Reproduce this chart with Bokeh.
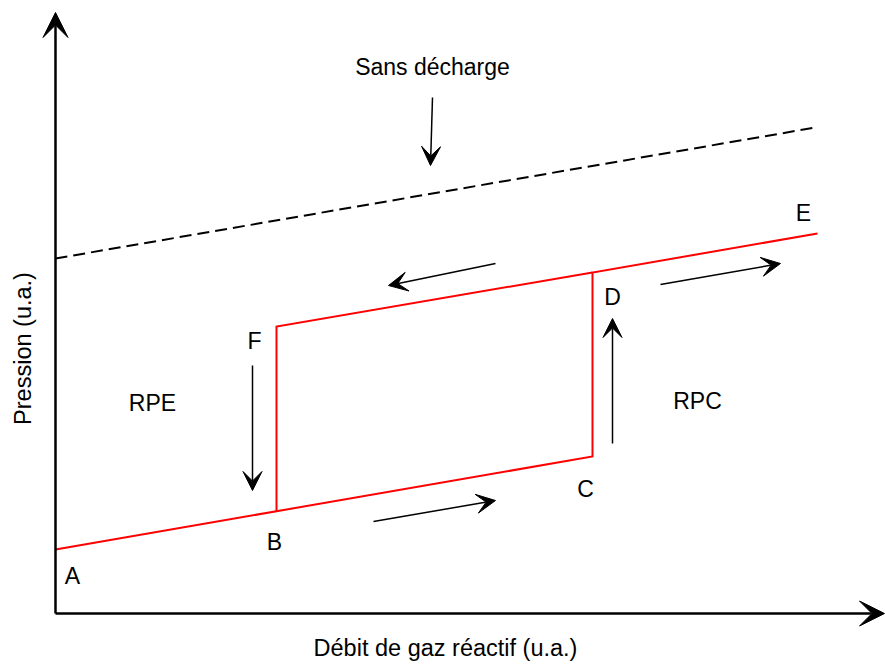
import numpy as np
from bokeh.plotting import figure
from bokeh.models import Range1d, Arrow, VeeHead, ColumnDataSource
from bokeh.embed import file_html
from bokeh.resources import INLINE
from bokeh.core.properties import value

# ---- data (arbitrary units, u.a.) ----
# axes
axis_x0 = [0, 0]
axis_y0 = [0, 0]
axis_x1 = [0, 829]
axis_y1 = [601, 0]

# "sans décharge" reference (dashed)
nodis_x = [0, 760]
nodis_y = [355, 486]

# hysteresis loop: A -> C -> D -> E  and  B -> F -> D
loop_main_x = [0, 537, 537, 762]
loop_main_y = [64, 157, 341, 380]
loop_back_x = [221, 221, 537]
loop_back_y = [102, 287, 341]

# direction arrows
arr_x0 = [377, 440, 605, 557, 197, 318]
arr_y0 = [516, 350, 329, 170, 248, 92]
arr_x1 = [375, 333, 725, 557, 197, 440]
arr_y1 = [448, 328, 350, 295, 123, 113]

# point / region labels
lab_text = ["A", "B", "C", "D", "E", "F", "RPE", "RPC", "Sans décharge"]
lab_x = [17, 219, 530, 557, 748, 199, 97, 642, 377]
lab_y = [38, 72, 125, 317, 401, 273, 211, 213, 547]

xlabel = "Débit de gaz réactif (u.a.)"
ylabel = "Pression (u.a.)"
xlabel_pos = (390, -34)
ylabel_pos = (-33, 265)

FONT = "Liberation Sans"

p = figure(width=885, height=664, x_range=Range1d(-55, 830), y_range=Range1d(-51, 613),
           output_backend="svg", toolbar_location=None, min_border=0)
p.axis.visible = False
p.grid.visible = False
p.outline_line_color = None
p.background_fill_color = "white"
p.border_fill_color = "white"

# dashed line
p.line(nodis_x, nodis_y, line_color="black", line_width=2, line_dash="12 6")

# red loop
p.multi_line([loop_main_x, loop_back_x], [loop_main_y, loop_back_y],
             line_color="#ff0000", line_width=2, line_join="miter")

# axes with arrows
axis_src = ColumnDataSource(dict(x0=axis_x0, y0=axis_y0, x1=axis_x1, y1=axis_y1))
p.add_layout(Arrow(end=VeeHead(size=25, fill_color="black", line_color="black", line_width=1),
                   x_start="x0", y_start="y0", x_end="x1", y_end="y1",
                   source=axis_src, line_width=2.5, line_color="black"))

arr_src = ColumnDataSource(dict(x0=arr_x0, y0=arr_y0, x1=arr_x1, y1=arr_y1))
p.add_layout(Arrow(end=VeeHead(size=19, fill_color="black", line_color="black", line_width=1),
                   x_start="x0", y_start="y0", x_end="x1", y_end="y1",
                   source=arr_src, line_width=1.5, line_color="black"))

# labels
lab_src = ColumnDataSource(dict(x=lab_x, y=lab_y, t=lab_text))
p.text(x="x", y="y", text="t", source=lab_src, text_font=value(FONT),
       text_font_size=value("23px"), text_align="center", text_baseline="middle",
       text_color="black")

p.text(x=[xlabel_pos[0]], y=[xlabel_pos[1]], text=[xlabel], text_font=value(FONT),
       text_font_size=value("23.5px"), text_align="center", text_baseline="middle",
       text_color="black")
p.text(x=[ylabel_pos[0]], y=[ylabel_pos[1]], text=[ylabel], angle=np.pi / 2,
       text_font=value(FONT), text_font_size=value("23.5px"), text_align="center",
       text_baseline="middle", text_color="black")

open("out.html", "w").write(file_html(p, INLINE))
